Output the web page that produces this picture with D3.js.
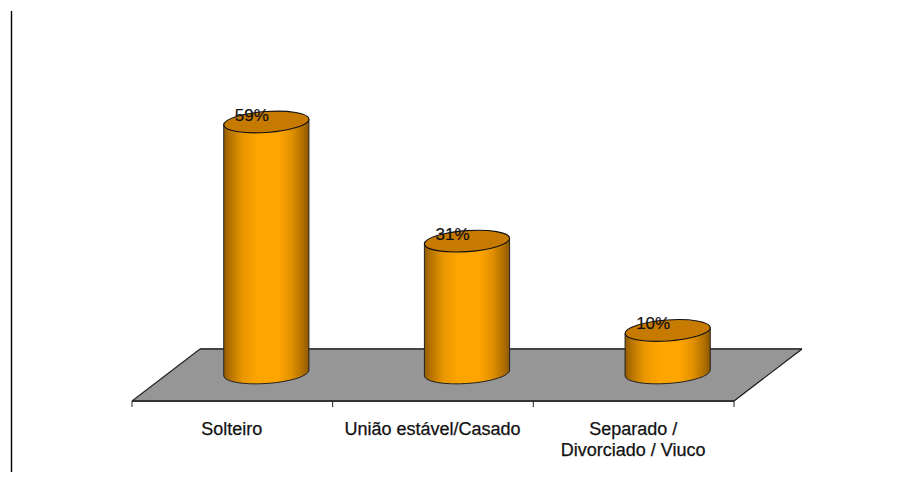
<!DOCTYPE html>
<html><head><meta charset="utf-8">
<script src="https://cdn.jsdelivr.net/npm/d3@7"></script>
<style>html,body{margin:0;background:#fff}svg{display:block}text{font-family:"Liberation Sans",Arial,sans-serif;fill:#111}</style>
</head><body><svg id="c" width="915" height="485"></svg>
<script>
const categories = ["Solteiro", "União estável/Casado", "Separado /\nDivorciado / Viuco"];
const values = [59, 31, 10];
const labels = ["59%", "31%", "10%"];

const svg = d3.select("#c");
const x = d3.scaleBand().domain(categories).range([132, 734]);
const y = d3.scaleLinear().domain([0, 59]).range([373, 122]);
const depthX = 34, rx = 42.7, ry = 10.5, tilt = -4, rad = tilt * Math.PI / 180;
const cx = c => x(c) + x.bandwidth() / 2 + depthX;
const dx = rx * Math.cos(rad), dy = rx * Math.sin(rad);

const defs = svg.append("defs");
const g = defs.append("linearGradient").attr("id", "cyl");
[[0,"#8f5a00"],[.06,"#b06f00"],[.22,"#e89600"],[.4,"#ffa500"],[.64,"#ffa500"],[.8,"#e09000"],[.93,"#b06f00"],[1,"#8a5700"]]
  .forEach(s => g.append("stop").attr("offset", s[0]).attr("stop-color", s[1]));

svg.append("line").attr("x1", 11.5).attr("x2", 11.5).attr("y1", 11).attr("y2", 472)
  .attr("stroke", "#000").attr("stroke-width", 1.4);

const [x0, x1] = x.range();
const floorFront = 401, floorBack = 349, floorShift = 68;
svg.append("path")
  .attr("d", `M${x0},${floorFront}L${x0 + floorShift},${floorBack}L${x1 + floorShift},${floorBack}L${x1},${floorFront}Z`)
  .attr("fill", "#969696").attr("stroke", "none");
svg.append("line").attr("x1", x0 + floorShift).attr("x2", x1 + floorShift).attr("y1", floorBack).attr("y2", floorBack)
  .attr("stroke", "#444").attr("stroke-width", 1.8);
svg.append("line").attr("x1", x0).attr("x2", x1).attr("y1", floorFront).attr("y2", floorFront)
  .attr("stroke", "#333").attr("stroke-width", 1.8);
svg.append("line").attr("x1", x0).attr("x2", x0 + floorShift).attr("y1", floorFront).attr("y2", floorBack)
  .attr("stroke", "#222").attr("stroke-width", 1.1);
svg.append("line").attr("x1", x1).attr("x2", x1 + floorShift).attr("y1", floorFront).attr("y2", floorBack)
  .attr("stroke", "#111").attr("stroke-width", 1.1);

d3.range(categories.length + 1).forEach(i => {
  const t = x0 + i * x.step();
  svg.append("line").attr("x1", t).attr("x2", t).attr("y1", floorFront).attr("y2", floorFront + 6)
    .attr("stroke", "#222").attr("stroke-width", 1);
});

categories.forEach((c, i) => {
  const cxv = cx(c), top = y(values[i]), base = y(0);
  svg.append("path")
    .attr("d", `M${cxv - dx},${top - dy}L${cxv - dx},${base - dy}A${rx},${ry} ${tilt} 0 0 ${cxv + dx},${base + dy}L${cxv + dx},${top + dy}Z`)
    .attr("fill", "url(#cyl)").attr("stroke", "#222").attr("stroke-width", 1);
  svg.append("ellipse")
    .attr("cx", 0).attr("cy", 0).attr("rx", rx).attr("ry", ry)
    .attr("transform", `translate(${cxv},${top}) rotate(${tilt})`)
    .attr("fill", "#c67a00").attr("stroke", "#111").attr("stroke-width", 1.1);
  svg.append("text").attr("x", cxv - 14.5).attr("y", top - 1).attr("text-anchor", "middle")
    .attr("font-size", 17).attr("stroke", "#111").attr("stroke-width", 0.2).text(labels[i]);
});

categories.forEach(c => {
  const t = svg.append("text").attr("text-anchor", "middle").attr("font-size", 18)
    .attr("stroke", "#111").attr("stroke-width", 0.25);
  c.split("\n").forEach((line, j) => {
    t.append("tspan").attr("x", x(c) + x.bandwidth() / 2 - 0.5).attr("y", 435 + j * 21).text(line);
  });
});
</script></body></html>
